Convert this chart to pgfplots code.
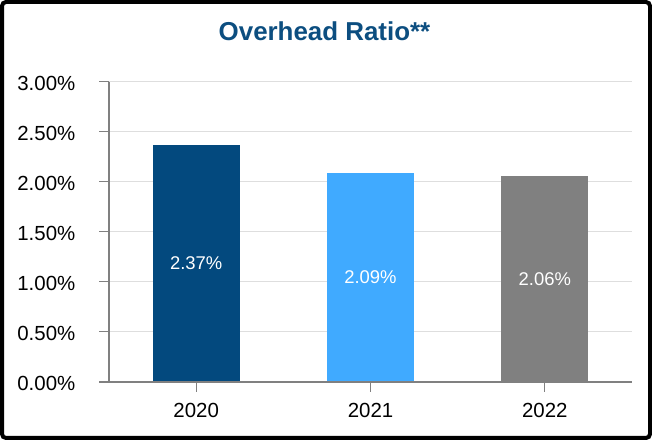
\documentclass[border=0pt]{standalone}
\usepackage{pgfplots}
\pgfplotsset{compat=1.18}
\usepackage{fontspec}
\setmainfont{Liberation Sans}

\definecolor{titleblue}{RGB}{12,78,128}
\definecolor{bar20}{RGB}{3,73,126}
\definecolor{bar21}{RGB}{64,170,255}
\definecolor{bar22}{RGB}{128,128,128}
\definecolor{gridgray}{RGB}{222,222,222}
\definecolor{axgray}{RGB}{128,128,128}

\pgfplotsset{
  ratiobar/.style={
    ybar, bar width=87bp, draw=none, fill=#1,
    nodes near coords={\pgfmathprintnumber[fixed,fixed zerofill,precision=2]{\pgfplotspointmeta}\%},
    nodes near coords align=center,
    visualization depends on={rawy \as \rawy},
    every node near coord/.style={anchor=center, yshift={-\rawy*50bp},
      text=white, inner sep=0pt, font=\fontsize{18.5}{22}\selectfont},
  },
}

\begin{document}
\begin{tikzpicture}[x=1bp,y=1bp]
\useasboundingbox (0,0) rectangle (652,440);
\begin{axis}[
  at={(109bp,58.3bp)}, anchor=south west,
  scale only axis, width=523bp, height=300bp,
  xmin=-0.5, xmax=2.5, ymin=0, ymax=3,
  axis x line*=bottom, axis y line*=left,
  xtick={0,1,2}, xticklabels={2020,2021,2022},
  ytick={0,0.5,1,1.5,2,2.5,3},
  yticklabel={\pgfmathprintnumber[fixed,fixed zerofill,precision=2]{\tick}\%},
  /pgf/number format/assume math mode=true,
  tick align=outside, major tick length=10bp,
  tick style={axgray, line width=1.2bp},
  ymajorgrids, major grid style={gridgray, line width=1.2bp},
  x axis line style={axgray, line width=2bp, -},
  y axis line style={axgray, line width=1.2bp, -},
  ticklabel style={font=\fontsize{20.5}{24}\selectfont, text=black, inner sep=0pt},
  yticklabel style={anchor=east, xshift=-23.5bp, yshift=-1.5bp},
  xticklabel style={anchor=base, yshift=-26bp},
  clip=false,
]
\addplot[ratiobar=bar20] coordinates {(0,2.37)};
\addplot[ratiobar=bar21] coordinates {(1,2.09)};
\addplot[ratiobar=bar22] coordinates {(2,2.06)};
\draw[axgray, line width=2bp] ([xshift=-10bp]rel axis cs:0,0) -- (rel axis cs:1,0);
\end{axis}
\node[anchor=base, text=titleblue, font=\bfseries\fontsize{26}{30}\selectfont]
  at (324.5,399.6) {Overhead Ratio**};
\draw[line width=4bp, rounded corners=4bp] (2,2) rectangle (650,438);
\end{tikzpicture}
\end{document}
